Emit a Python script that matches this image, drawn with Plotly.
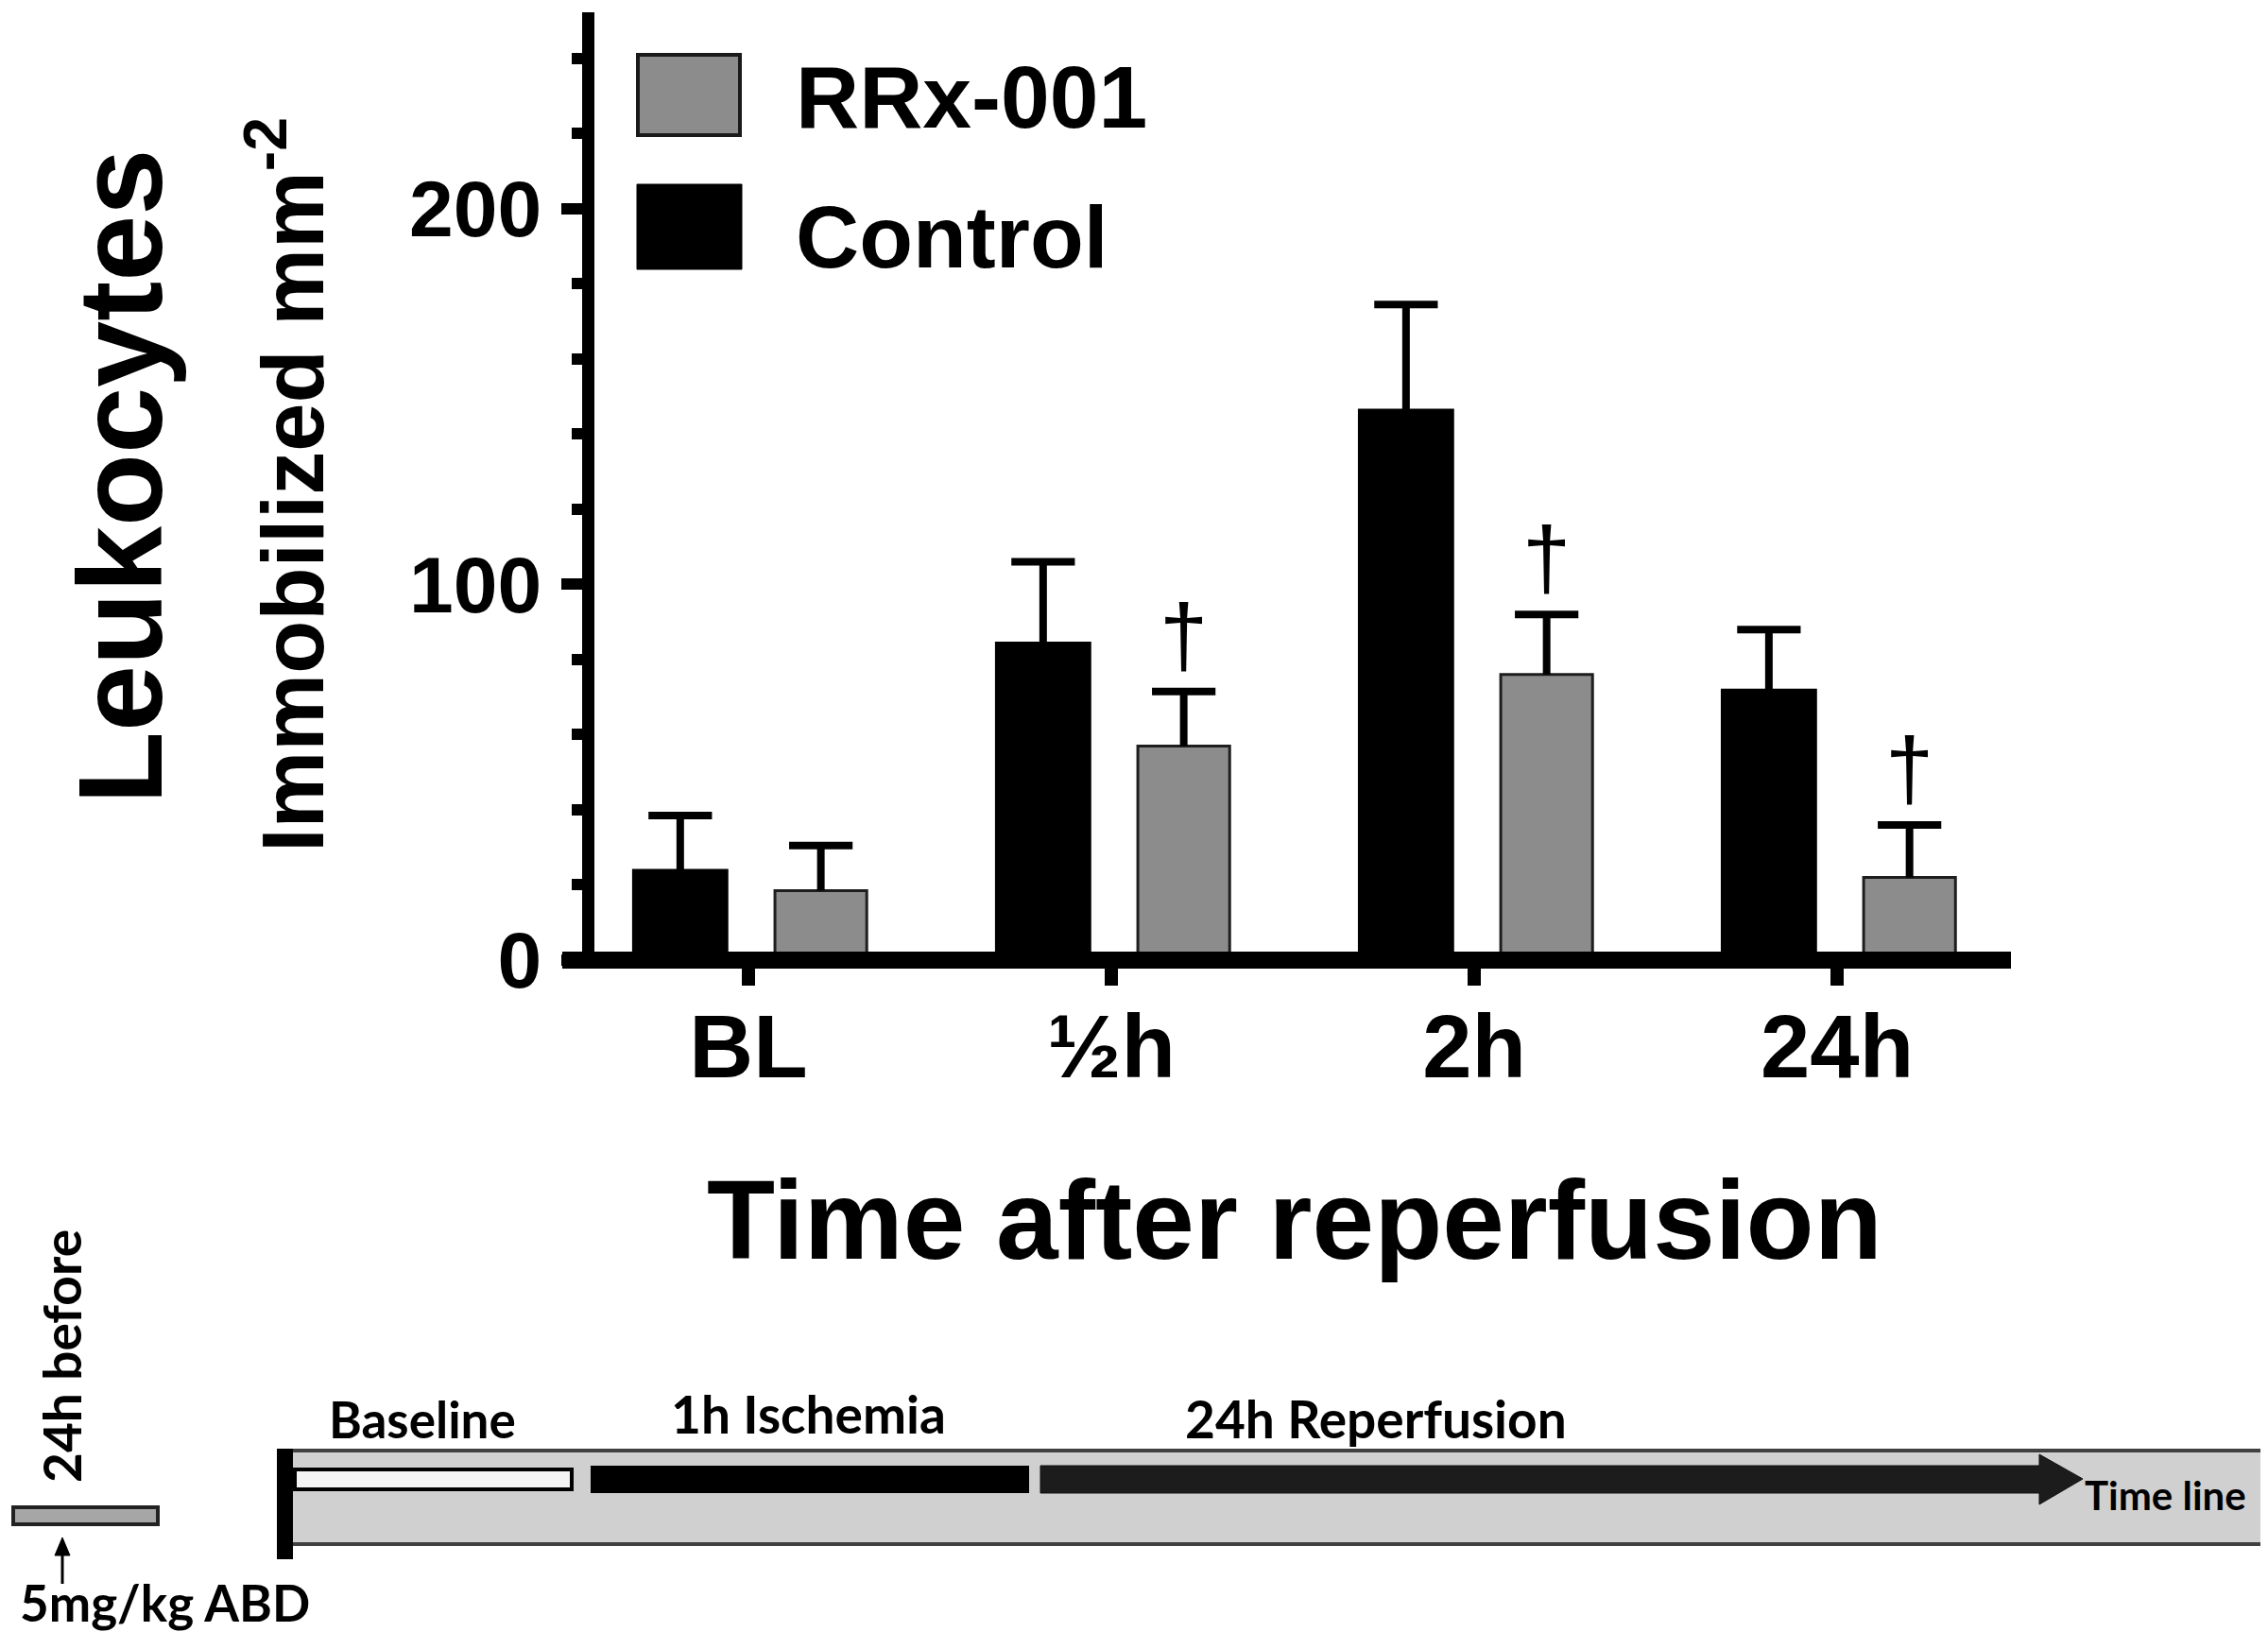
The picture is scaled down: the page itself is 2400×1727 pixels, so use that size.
import plotly.graph_objects as go

# ---------------- data ----------------
categories = ["BL", "½h", "2h", "24h"]
control_mean = [24, 84.5, 146.5, 72]
control_sem = [14.5, 21.5, 28, 16]
rrx_mean = [18.5, 57, 76, 22]
rrx_sem = [12, 14.5, 16, 14]
rrx_sig = ["", "†", "†", "†"]
y_major = [0, 100, 200]
legend_names = ["RRx-001", "Control"]

# ---------------- geometry (full-size pixels) ----------------
W, H = 2400, 1727
L, R, T, B = 621, 280, 5, 719
PW = W - L - R
PH = H - T - B


def px(x):
    return (x - L) / PW


def py(y):
    return (H - B - y) / PH


xpos = list(range(len(categories)))
CTRL_OFF, CTRL_W = -0.318, 0.26
RRX_OFF, RRX_W = 0.073, 0.253
CAP = 48
EB = 8

SANS = "Liberation Sans, Arial, sans-serif"
TL = "Lato, Open Sans, sans-serif"
GRAY = "#8c8c8c"

fig = go.Figure()

fig.add_bar(
    x=xpos, y=control_mean, width=CTRL_W, offset=CTRL_OFF,
    marker=dict(color="black", line=dict(color="black", width=2)),
    error_y=dict(type="data", array=control_sem, arrayminus=[0] * len(xpos),
                 symmetric=False, width=0, thickness=EB, color="black"),
    showlegend=False, name=legend_names[1],
)
fig.add_bar(
    x=xpos, y=rrx_mean, width=RRX_W, offset=RRX_OFF,
    marker=dict(color=GRAY, line=dict(color="#1e1e1e", width=3)),
    error_y=dict(type="data", array=rrx_sem, arrayminus=[0] * len(xpos),
                 symmetric=False, width=0, thickness=EB, color="black"),
    showlegend=False, name=legend_names[0],
)

# error-bar caps
fig.add_scatter(
    x=[i + CTRL_OFF + CTRL_W / 2 for i in xpos],
    y=[m + s for m, s in zip(control_mean, control_sem)],
    mode="markers", showlegend=False, hoverinfo="skip", cliponaxis=False,
    marker=dict(symbol="line-ew", size=CAP, line=dict(color="black", width=EB)),
)
fig.add_scatter(
    x=[i + RRX_OFF + RRX_W / 2 for i in xpos],
    y=[m + s for m, s in zip(rrx_mean, rrx_sem)],
    mode="markers", showlegend=False, hoverinfo="skip", cliponaxis=False,
    marker=dict(symbol="line-ew", size=CAP, line=dict(color="black", width=EB)),
)

annotations = []
# significance daggers
for i, m, s, g in zip(xpos, rrx_mean, rrx_sem, rrx_sig):
    if g:
        annotations.append(dict(
            x=i + RRX_OFF + RRX_W / 2, y=m + s, xref="x", yref="y",
            text=g, showarrow=False, yanchor="bottom", yshift=7,
            font=dict(family=SANS, size=92, color="black"),
        ))

shapes = []
# x-axis baseline (thick, centred on y = 0)
shapes.append(dict(type="line", xref="paper", yref="paper", layer="above",
                   x0=px(587), x1=1, y0=0, y1=0,
                   line=dict(color="black", width=18)))

# legend (custom, as in the figure)
shapes.append(dict(type="rect", xref="paper", yref="paper",
                   x0=px(667), x1=px(775), y0=py(135), y1=py(50),
                   fillcolor=GRAY, line=dict(color="#1a1a1a", width=4)))
shapes.append(dict(type="rect", xref="paper", yref="paper",
                   x0=px(666), x1=px(777), y0=py(277), y1=py(187),
                   fillcolor="black", line=dict(color="black", width=1)))
annotations.append(dict(x=px(832), y=py(95), xref="paper", yref="paper",
                        text=legend_names[0], showarrow=False, xanchor="left", yanchor="middle",
                        font=dict(family=SANS, size=93, color="black", weight="bold")))
annotations.append(dict(x=px(832), y=py(243), xref="paper", yref="paper",
                        text=legend_names[1], showarrow=False, xanchor="left", yanchor="middle",
                        font=dict(family=SANS, size=93, color="black", weight="bold")))

# y-axis titles
annotations.append(dict(x=px(119), y=py(497), xref="paper", yref="paper",
                        text="Leukocytes", showarrow=False, textangle=-90,
                        xanchor="center", yanchor="middle",
                        font=dict(family=SANS, size=126, color="black", weight="bold")))
annotations.append(dict(x=px(295), y=py(505), xref="paper", yref="paper",
                        text="Immobilized mm<sup>-2</sup>", showarrow=False, textangle=-90,
                        xanchor="center", yanchor="middle",
                        font=dict(family=SANS, size=92, color="black", weight="bold")))
# x-axis title
annotations.append(dict(x=px(1362), y=py(1283), xref="paper", yref="paper",
                        text="Time after reperfusion", showarrow=False,
                        xanchor="center", yanchor="middle",
                        font=dict(family=SANS, size=118, color="black", weight="bold")))

# ---------------- timeline schematic ----------------
shapes.append(dict(type="rect", xref="paper", yref="paper",
                   x0=px(293), x1=px(2391), y0=py(1626), y1=py(1527),
                   fillcolor="#d0d0d0", line=dict(color="#404040", width=4)))
shapes.append(dict(type="rect", xref="paper", yref="paper",
                   x0=px(285), x1=px(302), y0=py(1642), y1=py(1525),
                   fillcolor="black", line=dict(width=0)))
shapes.append(dict(type="rect", xref="paper", yref="paper",
                   x0=px(304), x1=px(597), y0=py(1568), y1=py(1547),
                   fillcolor="#f4f4f4", line=dict(color="black", width=4)))
shapes.append(dict(type="rect", xref="paper", yref="paper",
                   x0=px(617), x1=px(1081), y0=py(1572), y1=py(1543),
                   fillcolor="black", line=dict(width=0)))
arrow_pts = [(1093, 1543), (2150, 1543), (2150, 1531), (2196, 1557),
             (2150, 1584), (2150, 1572), (1093, 1572)]
path = "M " + " L ".join(f"{px(a):.5f},{py(b):.5f}" for a, b in arrow_pts) + " Z"
shapes.append(dict(type="path", xref="paper", yref="paper", path=path,
                   fillcolor="#1c1c1c", line=dict(color="#111", width=1)))
shapes.append(dict(type="rect", xref="paper", yref="paper",
                   x0=px(6), x1=px(159), y0=py(1605), y1=py(1587),
                   fillcolor="#a6a6a6", line=dict(color="#222", width=4)))
# small up-arrow under the dosing bar
shapes.append(dict(type="line", xref="paper", yref="paper",
                   x0=px(58), x1=px(58), y0=py(1668), y1=py(1634),
                   line=dict(color="black", width=3)))
head = [(58, 1619), (50, 1638), (66, 1638)]
hpath = "M " + " L ".join(f"{px(a):.5f},{py(b):.5f}" for a, b in head) + " Z"
shapes.append(dict(type="path", xref="paper", yref="paper", path=hpath,
                   fillcolor="black", line=dict(color="black", width=1)))

tl_labels = [
    ("Baseline", 439, 1493, 53),
    ("1h Ischemia", 847, 1488, 55),
    ("24h Reperfusion", 1448, 1493, 55),
]
for txt, cx, cy, sz in tl_labels:
    annotations.append(dict(x=px(cx), y=py(cy), xref="paper", yref="paper",
                            text=txt, showarrow=False, xanchor="center", yanchor="middle",
                            font=dict(family=TL, size=sz, color="black", weight="bold")))
annotations.append(dict(x=px(166), y=py(1721), xref="paper", yref="paper",
                        text="5mg/kg ABD", showarrow=False, xanchor="center", yanchor="bottom",
                        font=dict(family=TL, size=53, color="black", weight="bold")))
annotations.append(dict(x=px(2283), y=py(1574), xref="paper", yref="paper",
                        text="Time line", showarrow=False, xanchor="center", yanchor="middle",
                        font=dict(family=TL, size=42, color="black", weight="bold")))
annotations.append(dict(x=px(57), y=py(1427), xref="paper", yref="paper",
                        text="24h before", showarrow=False, textangle=-90,
                        xanchor="center", yanchor="middle",
                        font=dict(family=TL, size=55, color="black", weight="bold")))

fig.update_layout(
    width=W, height=H,
    margin=dict(l=L, r=R, t=T, b=B, pad=0),
    paper_bgcolor="white", plot_bgcolor="white",
    barmode="overlay",
    showlegend=False,
    shapes=shapes, annotations=annotations,
    xaxis=dict(
        range=[-0.4245, 3.479], tickvals=xpos, ticktext=categories,
        ticks="outside", ticklen=26, tickwidth=14, tickcolor="black",
        showline=False, showgrid=False, zeroline=False,
        tickfont=dict(family=SANS, size=94, color="black", weight="bold"),
        ticklabelstandoff=-16,
    ),
    yaxis=dict(
        range=[0, 252.3], tickvals=y_major,
        ticks="outside", ticklen=22, tickwidth=12, tickcolor="black",
        minor=dict(dtick=20, ticks="outside", ticklen=11, tickwidth=12, tickcolor="black"),
        showline=True, linewidth=13, linecolor="black",
        showgrid=False, zeroline=False,
        tickfont=dict(family=SANS, size=84, color="black", weight="bold"),
        ticklabelstandoff=4,
    ),
)

fig.write_html("out.html")
